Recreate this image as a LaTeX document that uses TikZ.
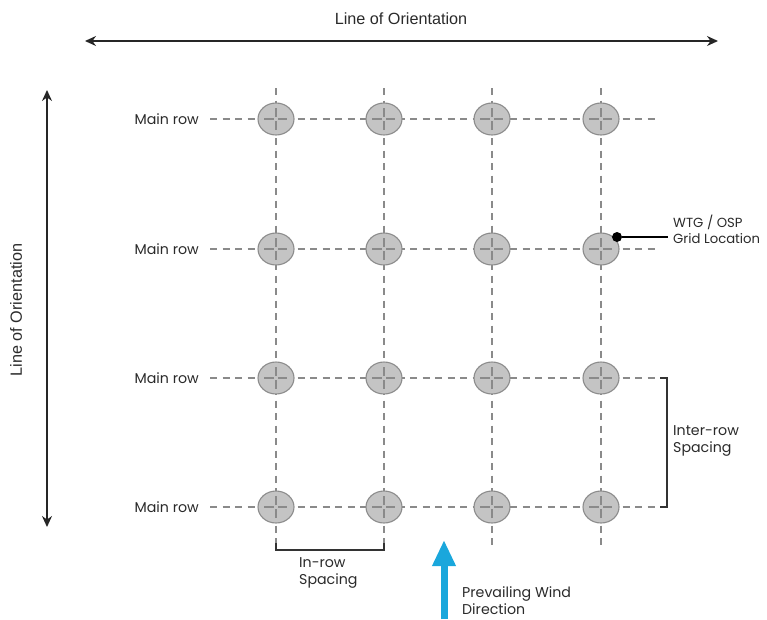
\documentclass[tikz,border=0pt]{standalone}
\usepackage{fontspec}
\setmainfont{Poppins}
\newfontfamily\arialf{Liberation Sans}
\usetikzlibrary{shapes.geometric,arrows.meta}
\definecolor{dashgray}{HTML}{8A8A8A}
\definecolor{turbfill}{HTML}{C4C4C4}
\definecolor{turbline}{HTML}{8C8C8C}
\definecolor{txt}{HTML}{2A2A2A}
\definecolor{windblue}{HTML}{1AA7DC}
\begin{document}
\begin{tikzpicture}[x=1pt,y=-1pt,
  turbine/.style={ellipse, draw=turbline, fill=turbfill, line width=1.1pt, minimum width=36pt, minimum height=32pt, inner sep=0pt},
  gridline/.style={draw=dashgray, line width=1.1pt, dash pattern=on 7pt off 5.5pt},
  crossline/.style={draw=dashgray, line width=1.1pt},
  lbl/.style={font=\fontsize{14.2}{17}\selectfont, text=txt, inner sep=0pt},
  orient/.style={{Stealth[length=11pt,width=10pt]}-{Stealth[length=11pt,width=10pt]}, line width=1.6pt, draw=black!85},
  orientlbl/.style={font=\arialf\fontsize{16.2}{18}\selectfont, text=txt, inner sep=0pt},
  bracket/.style={draw=black!80, line width=1.4pt},
  wind/.style={draw=windblue, line width=7pt, -{Triangle[length=26pt,width=22pt]}}
]
\useasboundingbox (0,0) rectangle (767,619);

% orientation arrows
\coordinate (hoL) at (85,41);
\coordinate (hoR) at (718,41);
\draw[orient] (hoL) -- (hoR);
\node[orientlbl] (hoT) at (401,19) {Line of Orientation};
\coordinate (voT) at (47,90);
\coordinate (voB) at (47,527);
\draw[orient] (voT) -- (voB);
\node[orientlbl, rotate=90] (voT2) at (16,310) {Line of Orientation};

% grid lines
\foreach \c/\x in {1/276,2/384,3/492,4/601}{
  \coordinate (vt\c) at (\x,88);
  \coordinate (vb\c) at (\x,545);
  \draw[gridline] (vt\c) -- (vb\c);
}
\foreach \r/\y/\e in {1/119/655,2/249/655,3/378/661,4/507/661}{
  \coordinate (hl\r) at (210,\y);
  \coordinate (hr\r) at (\e,\y);
  \draw[gridline] (hl\r) -- (hr\r);
  \node[lbl, anchor=east] (ml\r) at (199,\y) {Main row};
}

% turbines
\foreach \c/\x in {1/276,2/384,3/492,4/601}{
  \foreach \r/\y in {1/119,2/249,3/378,4/507}{
    \node[turbine] (t\r\c) at (\x,\y) {};
    \draw[crossline] ([xshift=-12pt]t\r\c.center) -- ([xshift=-2pt]t\r\c.center)
                     ([xshift=2pt]t\r\c.center) -- ([xshift=11pt]t\r\c.center)
                     ([yshift=-11pt]t\r\c.center) -- ([yshift=-2pt]t\r\c.center)
                     ([yshift=2pt]t\r\c.center) -- ([yshift=11pt]t\r\c.center);
  }
}

% WTG / OSP callout
\node[circle, fill=black, inner sep=0pt, minimum size=10pt] (dot) at (617,237) {};
\coordinate (callE) at (668,237);
\draw[line width=1.3pt] (dot) -- (callE);
\node[lbl, font=\fontsize{13.2}{16}\selectfont, anchor=west, align=left] (wtg) at (673,229) {WTG / OSP\\Grid Location};

% inter-row bracket
\coordinate (ib1) at (660,378);
\coordinate (ib2) at (667,378);
\coordinate (ib3) at (667,507);
\coordinate (ib4) at (660,507);
\draw[bracket] (ib1) -- (ib2) -- (ib3) -- (ib4);
\node[lbl, anchor=west, align=left] (irs) at (673,441) {Inter-row\\Spacing};

% in-row bracket
\coordinate (rb1) at (276,543);
\coordinate (rb2) at (276,550);
\coordinate (rb3) at (384,550);
\coordinate (rb4) at (384,543);
\draw[bracket] (rb1) -- (rb2) -- (rb3) -- (rb4);
\node[lbl, anchor=west, align=left] (irw) at (299,573) {In-row\\Spacing};

% wind arrow
\coordinate (wB) at (444,619);
\coordinate (wT) at (444,540);
\draw[wind] (wB) -- (wT);
\node[lbl, anchor=west, align=left] (pwd) at (462,601) {Prevailing Wind\\Direction};
\end{tikzpicture}
\end{document}
